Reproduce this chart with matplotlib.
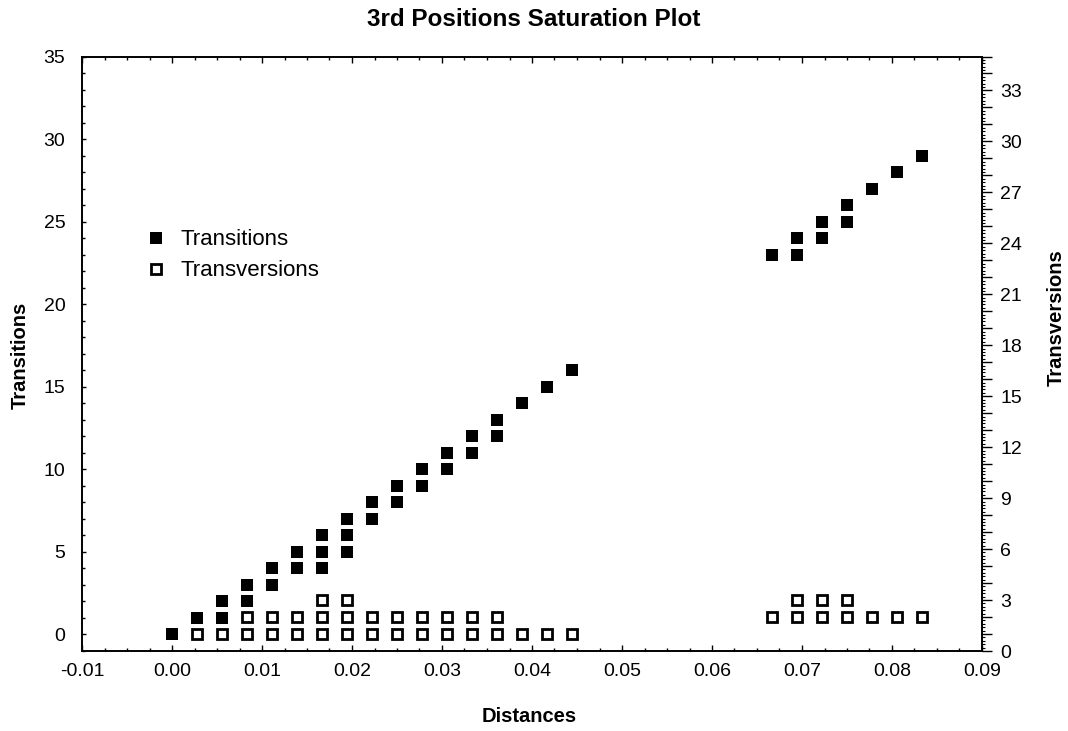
import numpy as np
import matplotlib.pyplot as plt
from matplotlib.ticker import MultipleLocator, FuncFormatter

plt.rcParams['font.family'] = ['Liberation Sans', 'DejaVu Sans']

# transitions (left axis)
ts_dist = [0.0, 0.0028, 0.0056, 0.0056, 0.0083, 0.0083, 0.0111, 0.0111,
           0.0139, 0.0139, 0.0167, 0.0167, 0.0167, 0.0194, 0.0194, 0.0194,
           0.0222, 0.0222, 0.025, 0.025, 0.0278, 0.0278, 0.0306, 0.0306,
           0.0333, 0.0333, 0.0361, 0.0361, 0.0389, 0.0417, 0.0444,
           0.0667, 0.0694, 0.0694, 0.0722, 0.0722, 0.075, 0.075,
           0.0778, 0.0806, 0.0833]
ts_count = [0, 1, 1, 2, 2, 3, 3, 4,
            4, 5, 4, 5, 6, 5, 6, 7,
            7, 8, 8, 9, 9, 10, 10, 11,
            11, 12, 12, 13, 14, 15, 16,
            23, 23, 24, 24, 25, 25, 26,
            27, 28, 29]

# transversions (right axis)
tv_dist = [0.0028, 0.0056, 0.0083, 0.0111, 0.0139, 0.0167, 0.0194, 0.0222,
           0.025, 0.0278, 0.0306, 0.0333, 0.0361, 0.0389, 0.0417, 0.0444,
           0.0083, 0.0111, 0.0139, 0.0167, 0.0194, 0.0222, 0.025, 0.0278,
           0.0306, 0.0333, 0.0361,
           0.0167, 0.0194,
           0.0667, 0.0694, 0.0722, 0.075, 0.0778, 0.0806, 0.0833,
           0.0694, 0.0722, 0.075]
tv_count = [1, 1, 1, 1, 1, 1, 1, 1,
            1, 1, 1, 1, 1, 1, 1, 1,
            2, 2, 2, 2, 2, 2, 2, 2,
            2, 2, 2,
            3, 3,
            2, 2, 2, 2, 2, 2, 2,
            3, 3, 3]

fig = plt.figure(figsize=(10.68, 7.31), dpi=100)
ax = fig.add_axes([82/1068, 1-651/731, 900/1068, 594.5/731])
ax2 = ax.twinx()

h1, = ax.plot(ts_dist, ts_count, ls='none', marker='s', ms=8, mfc='black',
              mec='black', mew=0, label='Transitions', clip_on=False)
h2, = ax2.plot(tv_dist, tv_count, ls='none', marker='s', ms=7.0, mfc='white',
               mec='black', mew=2.0, label='Transversions', clip_on=False)

ax.set_xlim(-0.01, 0.09)
ax.set_ylim(-1, 35)
ax2.set_ylim(0, 35)

ax.xaxis.set_major_locator(MultipleLocator(0.01))
ax.xaxis.set_minor_locator(MultipleLocator(0.0025))
ax.xaxis.set_major_formatter(FuncFormatter(lambda v, p: '%.2f' % v))
ax.yaxis.set_major_locator(MultipleLocator(5))
ax.yaxis.set_minor_locator(MultipleLocator(1))
ax.tick_params(axis='x', which='both', direction='in', top=True, bottom=True)
ax.tick_params(axis='x', which='major', length=4, width=1, labelsize=14, pad=9)
ax.tick_params(axis='x', which='minor', length=2.5, width=1)
ax.tick_params(axis='y', which='both', direction='in', left=True, right=False)
ax.tick_params(axis='y', which='major', length=3, width=1, labelsize=14, pad=12)
ax.tick_params(axis='y', which='minor', length=2.5, width=1)

ax2.yaxis.set_major_locator(MultipleLocator(1))
ax2.yaxis.set_minor_locator(MultipleLocator(0.2))
ax2.yaxis.set_major_formatter(FuncFormatter(lambda v, p: '%d' % round(v) if round(v) % 3 == 0 else ''))
ax2.tick_params(axis='y', which='major', direction='out', length=7, width=1,
                labelsize=14, pad=6)
ax2.tick_params(axis='y', which='minor', direction='out', length=1.8, width=0.8)

for a in (ax, ax2):
    for s in a.spines.values():
        s.set_linewidth(1.2)

fig.text(0.5, 1-19/731, '3rd Positions Saturation Plot', ha='center', va='center',
         fontsize=17.5, fontweight='bold')
fig.text(20/1068, 1-355/731, 'Transitions', ha='center', va='center', rotation=90,
         fontsize=14.5, fontweight='bold')
fig.text(1056/1068, 1-318/731, 'Transversions', ha='center', va='center', rotation=90,
         fontsize=14.5, fontweight='bold')
fig.text(529/1068, 1-717/731, 'Distances', ha='center', va='center',
         fontsize=14.5, fontweight='bold')

leg = ax.legend([h1, h2], ['Transitions', 'Transversions'], loc='upper left',
                bbox_to_anchor=(0.06, 0.724), frameon=False, fontsize=16,
                handlelength=1.0, handletextpad=0.6, labelspacing=0.45,
                borderaxespad=0)

fig.savefig('out.png', dpi=100)
